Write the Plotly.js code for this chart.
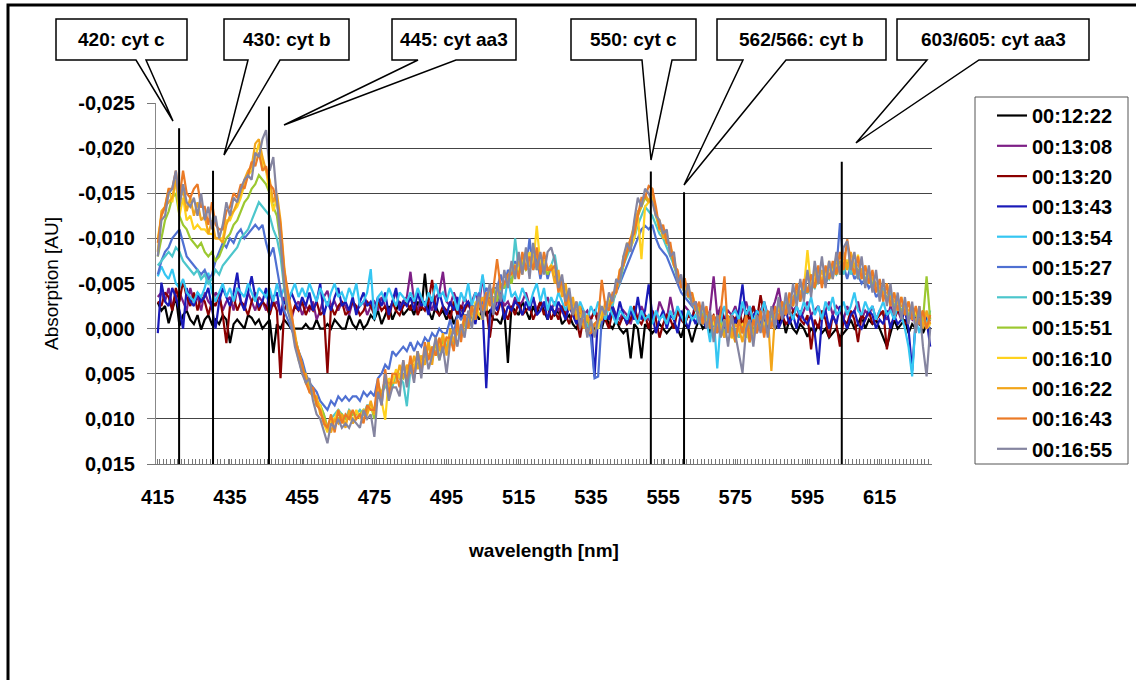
<!DOCTYPE html>
<html><head><meta charset="utf-8">
<script src="https://cdn.plot.ly/plotly-3.0.1.min.js"></script>
<style>html,body{margin:0;padding:0;background:#fff}#chart{width:1136px;height:680px}</style>
</head><body><div id="chart"></div>
<script>
// ---------------- DATA ----------------
const wavelengthNm = [415,416,417,418,419,420,421,422,423,424,425,426,427,428,429,430,431,432,433,434,
435,436,437,438,439,440,441,442,443,444,445,446,447,448,449,450,451,452,453,454,
455,456,457,458,459,460,461,462,463,464,465,466,467,468,469,470,471,472,473,474,
475,476,477,478,479,480,481,482,483,484,485,486,487,488,489,490,491,492,493,494,
495,496,497,498,499,500,501,502,503,504,505,506,507,508,509,510,511,512,513,514,
515,516,517,518,519,520,521,522,523,524,525,526,527,528,529,530,531,532,533,534,
535,536,537,538,539,540,541,542,543,544,545,546,547,548,549,550,551,552,553,554,
555,556,557,558,559,560,561,562,563,564,565,566,567,568,569,570,571,572,573,574,
575,576,577,578,579,580,581,582,583,584,585,586,587,588,589,590,591,592,593,594,
595,596,597,598,599,600,601,602,603,604,605,606,607,608,609,610,611,612,613,614,
615,616,617,618,619,620,621,622,623,624,625,626,627,628,629];

const seriesNames = ["00:12:22","00:13:08","00:13:20","00:13:43","00:13:54","00:15:27",
                     "00:15:39","00:15:51","00:16:10","00:16:22","00:16:43","00:16:55"];

// absorption values in mAU (converted to AU when plotted)
const abs_001222 = [-2.9,-2,-2.5,-0.6,-2,-3.6,-0.3,-1.5,-2,-1,
-0.5,-1.5,0.1,-1,-1.5,-0.5,-1,-0.5,-1.5,-1,
1.6,-0.5,-1,-0.5,0,-1.5,-1.2,-0.5,-1,0,
-0.5,-1,2.7,-0.5,0,-1,-0.5,0,0,0,
0,-0.5,0,0,-1,0,0,-0.5,0,-1,
-0.5,0,0,-1.5,-0.5,0,-1,0,-0.5,-1.5,
-1,-2,-0.5,-1.5,-2.5,-1,-2,-3,-1.5,-2,
-2.5,-1.5,-3,-2,-6.1,-2,-1,-2.5,-1.5,-2,
-1,-2,-0.5,-1.5,-2.5,-1,-0.5,-1.5,-2,-1,
-2.5,-1.5,-2,-1,-1,-0.5,-2,3.8,-2.5,-2,
-1.5,-3,-2,-1,-2.5,-1.5,-3,-2,-1,-2.5,
-1.5,-2,-0.5,-1,-1.5,-0.5,0,-1,-0.5,0,
-0.5,0,-1,0,-1.5,-0.5,0,-1,0,0.5,
0,3.3,-0.5,0,3.3,-0.5,0,0.5,0,-0.5,
0,0.5,0,-0.5,0,1,-0.5,0,1.5,0,
-1,0,-0.5,0.5,-1,0,-1.5,-0.5,0,-1,
-0.5,-1,0,-2,-1,0,-1.5,-0.5,-1,0,
-1,0,-0.5,-1.5,0.5,-1,0,0.5,-0.5,0,
0.9,0,0.5,-0.5,0.5,0,1,0.5,0,1,
0.5,0,-1,0,-0.5,-1.5,0,-1,-0.5,-1,
0,1,2,0.5,-1,0,-0.5,-1,0.5,-0.5,
0,-1,0.5,-0.5,0];

const abs_001308 = [-3.5,-4,-3,-4.5,-2.5,-3.5,-4,-3,-2,-4.5,
-3,-3.5,-2,-4,-3,-2.5,-4,-3.5,-2,-3,
-3.5,-2,-4.5,-3,-2.5,-4,-3,-2,-3.5,-3,
-2,-4,-2.5,-3,-1.5,-3.5,-2.5,-1,-2.5,-3,
-1.5,-2.5,-2,-3,-1,-2,-3.5,-4.2,-2.5,-3,
-2,-3,-2.5,-1.5,-3,-2,-2.5,-3,-1.5,-2.5,
-3,-2,-3.5,-2.5,-1.5,-3,-4,-2.5,-3,-3.5,
-6.3,-3,-2,-3.5,-2.5,-3,-2,-3.5,-4,-6.3,
-3,-2.5,-4,-3,-2,-3.5,-2.5,-3,-4,-2.5,
-5.8,-2.5,-3.5,-2,-3,-4,-2.5,-3,-2,-3.5,
-2.5,-3,-4,-2.5,-3.5,-2,-3,-2.5,-3.5,-2,
-3,-2,-2.5,-1.5,-3,-2,-1,-2.5,-1.5,-2,
-1,-2,-1.5,-0.5,-2,-1,-2.5,-1.5,-1,-2,
-1.5,-0.5,-2,-1,-2.5,-1.5,-1,-2,-1,-3,
-2,-1,-3.5,-1.5,-2,-1,-2.5,-2,-1,-3,
-1.5,-2.5,-1,-2,-5.8,-1.5,-2.5,-1,-2,-1.5,
-2.5,-1,-2,-3,-1.5,-2.5,-1,-2,-3,-1.5,
-2,-3,-4.5,-2,-1.5,-3,-2,-2.5,-1,-2,
-3,-1.5,-2,-2.5,-1,-2,-3,-1.5,-2.5,-2,
-1,-2.5,-1.5,-2,-3,-1,-2,-1.5,-2.5,-1,
-2,-1.5,-1,-2.5,-1.5,-2,-1,-2,-1.5,-1,
-2,-1,-1.5,-0.5,-1];

const abs_001320 = [-3,-2.5,-4,-3.5,-2,-4.5,-3,-5.3,-3.5,-2.5,
-4,-2,-3.5,-3,-1.5,-3,-2.5,-4,-1.5,1.6,
-2.5,-3.5,-2,-3,-2.5,-1.5,-3,-4,-2,-3,
-2.5,-1.5,-3,-2,5.5,-2,-3,-1.5,-2.5,-2,
-3,-1.5,-2.5,-2,-3,-1.5,-2,4.9,-2.5,-1.5,
-2.5,-3,-1.5,-2,-3,-2.5,-1.5,-2,-3,-2.5,
-1.5,-3,-2,-2.5,-1,-3,-2,-1.5,-2.5,-3,
-2,-3.5,-1.5,-2.5,-2,-3,-5.4,-2,-1.5,-2.5,
-2,-1,-3,-1.5,-2.5,-2,-3,-1.5,-2,-2.5,
-1.5,-2.5,1,-2,-1.5,-3,-2,-1,-2.5,-1.5,
-3,-1.5,-2,-2.5,-1,-2,-3,-1.5,-2.5,-1,
-2,-1,-2.5,-1.5,-0.5,-2,-1,1,-1.5,-0.5,
-1,-2,-0.5,-1.5,-1,0,-2,-1,-0.5,-1.5,
-0.5,-1,-2.5,-1,-0.5,-1.5,0,-2,-1,1,
-0.5,-1.5,-1,0,-2,-1,-0.5,-1.5,-1,-2.5,
-1,-0.5,-2,-1,-1.5,-0.5,-2,-1,-0.5,-1.5,
-1,-2,-0.5,-1.5,-1,-2.5,-1,-3.7,-1.5,-1,
-0.5,-2,-1,-1.5,-0.5,-1,-2,-1.5,-1,-0.5,
-1.5,2.3,-1,0,-2,-1,1,-1.5,-0.5,2,
-1,-0.5,-2,-1,1.5,-1.5,-1,-2,-0.5,-1,
-1.5,-2,2.3,-0.5,-1,-2,-1.5,-0.5,-1,-2,
-1,-0.5,-1.5,-1,-0.5];

const abs_001343 = [0.5,-5.1,-3,-2.5,-4.5,-3.5,-2,0,-4.5,-3,
-2.5,-4,-3,-3.5,-4.5,-2,0,-3,-4.5,-3.5,
-2.5,-4,-6.2,-3,-2,-4,-5.8,-3.5,-2.5,-3,
-4.5,-2,-3.5,-4,-1.5,-3,-2.5,-4,-3,-2,
-3.5,-2.5,-4,-2,-3,-5,-1.5,-3,-2,-3.5,
-4.5,-2.5,-3,-2,-3.5,-1.5,-3,-4,-2.5,-3,
-2,-3.5,-2.5,-4,-1.5,-3,-4.5,-2,-3,-2.5,
-3.5,-2,-4,-2.5,-3,-1.5,-3.5,-2,-4,-2.5,
-1.5,-3,-2,-3.5,-1,-2.5,-3,-2,-0.5,-3,
-2,6.6,-1.5,-3,-2,-3.5,-1,-2.5,-2,-3,
-2.5,-1.5,-3,-2,-3.5,-1.5,-2,-3,-1,-2.5,
-1.5,-3,-2,-1,-2.5,-1.5,-0.5,-2,-1,0.5,
-1,5.3,-1.5,-0.5,-2,-1,-2.5,-1,-3,-1.5,
-0.5,-2,-1,-3.5,-1,-2,-4.9,-1.5,0.5,-1,
-2,0,-1.5,-1,0.5,-2,-1,0,-1.5,-0.5,
-2,-1,0,-1.5,-0.5,-1,-2,0,-1,-1.5,
-0.5,-2,-4.9,-1,0,-1.5,-2,-0.5,-1,0,
-1.5,-2.5,0,-1,-2,-0.5,-1.5,0,-2,-1,
-0.5,-1.5,0.5,4,-1,-2,0,-1.5,-0.5,-2.5,
-1,0,-1.5,-2,-0.5,0,-1,-2,-1.5,0,
-1,-0.5,-2,0,-1.5,-0.5,-1,-2,0,4.7,
-1,-0.5,-2,-1,2];

const abs_001354 = [-5.8,-6.9,-6,-5.5,-6.6,-5,-4.5,-5.5,-4,-3.5,
-3,-4,-3.5,-4.5,-6.2,-4,-3,-4,-5,-3.5,
-4.5,-3,-4.5,-4,-3.5,-5,-4,-3,-4.5,-4,
-3.5,-4.5,-3,-5,-3.5,-4.5,-3,-4,-5,-3.5,
-4.5,-3.5,-5,-4,-3,-4.5,-3.5,-2.5,-4,-5,
-3.5,-4,-3,-4.5,-3.5,-5,-2.5,-3,-4,-6.6,
-1,-3.5,-4,-3,-4.5,-3.5,-2.5,-4,-3.5,-3,
-4,-3,-4.5,-3.5,-2.5,-4,-3,-5,-3.5,-4,
-3,-4.5,-3.5,-2,-4,-3,-5,-2.5,-4,-3.5,
-6,-3,-4,-2.5,-3.5,-4.5,-3,-5.5,-3.5,-4,
-3,-4.5,-3.5,-2.5,-4,-5,-3,-4.5,-2,-3.5,
-2.5,-4,-3,-2,-3.5,-2.5,-1.5,-3,-2,-1,
-2.5,-1.5,-3,-2,-1,-2.5,-1.5,-0.5,-2,-1.5,
-1,-2.5,-1.5,-0.5,-2,-1,-1.5,-0.5,-2,-1,
-1.5,-0.5,-2,-1,-2.5,-1.5,-0.5,-2,-1,-1.5,
-0.5,-2,-1,1.5,-1.5,4.4,-1,-2.5,-0.5,-1.5,
-2,-1,-3,-1.5,-2.5,-0.5,-2,-1.5,-3,-1,
-2,-1,-2.5,-1.5,-3,-2,-1,-2.5,-1.5,-3,
-2,-3.5,-1.5,-2.5,-1,-3,-2,-3.5,-1.5,-2,
-3,-1.5,-2.5,-4,-2,-1.5,-3,-2,-2.5,-1,
-2,-3,-1.5,-2,-1,-2.5,-1.5,0,2,5.3,
-1,0.5,-1.5,-0.5,-2];

const abs_001527 = [-6,-7.5,-8.5,-9,-10,-10.5,-11,-9.5,-8,-7.5,
-7,-6.5,-6,-6.5,-5.5,-6,-7.5,-8.5,-9.5,-9,
-10,-9.5,-10.5,-11,-10,-10.5,-11,-11.5,-11,-11.5,
-9.5,-8,-9,-6.5,-4,-2,-1,0,1,2.5,
3.5,5,6,6.5,7,8,8.5,9,8,8.5,
7.5,8,7.5,8,7.5,7.5,8,7,7.5,7,
7.5,5.5,5,4,4.5,2.5,3,2.5,2,2.5,
1.5,2.5,1.5,2,1,1.5,0.5,1,0,0.5,
0.5,-1,0.5,-1.5,-1,-1.5,-1.5,-2.5,-2.5,-4,
-2.5,-4.5,-4,-4.5,-4.5,-6,-4.5,-6.5,-6,-7.5,
-6,-8,-6.5,-10,-6.5,-8,-5.5,-7.5,-5.5,-7,
-5.5,-5,-4,-3.5,-2.5,-2.5,-1.5,-1,-0.5,0,
1,5.5,5.3,-1,-2,-2.5,-3,-4,-5,-6,
-7,-8,-9,-10,-11,-11.4,-11,-11.5,-10,-9,
-8.5,-8,-7,-6,-5,-4,-3.5,-3,-2.5,-2,
-2,-0.5,-1.5,0,-0.5,0.5,-0.5,1,-1,0.5,
1,-0.5,0.5,-1,1,-1,0.5,-1,-0.5,-1,
-1,-1.5,-1.5,-2,-2.5,-2.5,-3,-3.5,-3.5,-4,
-4,-4.5,-5,-5,-5.5,-5,-6,-6,-6.5,-11.7,
-7,-5.5,-7,-5.5,-6,-5,-5.5,-4.5,-5,-3.5,
-4,-3.5,-3.5,-3,-2.5,-2.5,-2,-2,-1.5,-1.5,
-1,-1,-0.5,-0.5,0];

const abs_001539 = [-7,-7.5,-8,-8.5,-8,-9,-8.5,-7.5,-7,-6.5,
-6,-6.5,-5.5,-6,-5,-5.5,-6.5,-6,-7,-7.5,
-8,-8.5,-9,-10,-10.5,-11,-12,-13,-14,-13.5,
-13,-12.5,-11,-10,-8,-4.5,-2,-1,1.5,3,
5,5.5,6.5,7,8,8.5,9.5,11,10,9.5,
9,9.5,10,9,9.5,9.5,9,9.5,8.5,8.5,
9,7,7,6.5,6,6.5,5,5.5,6,8.6,
4.5,4,4,3.5,3,3,2.5,2.5,2,2,
2,0.5,2,0,1,-1,0,-2,-1.5,-2.5,
-2.5,-3,-3,-3.5,-3.5,-4.5,-4.5,-5.5,-5.5,-10,
-6.5,-7,-7,-7,-7.5,-7,-6.5,-7.5,-6.5,-7,
-8.2,-5.5,-4.5,-3.5,-3,-2.5,-2,-1.5,-1,-0.5,
0.5,-0.5,0,-1.5,-1.5,-3,-2.5,-4.5,-5,-7,
-8,-9,-10,-11.5,-12.5,-13.5,-13,-12.5,-11.5,-10.5,
-10,-9,-8,-7,-5.5,-5,-4,-3.5,-3,-2,
-2.5,-0.5,-1.5,0,-0.5,0,-1,0.5,-0.5,1,
0,1,-0.5,0,1.5,-0.5,0,-1.5,0,-1.5,
-0.5,-1.5,-1.5,-2.5,-2,-3,-2.5,-4,-3,-4.5,
-4,-5,-4.5,-5.5,-5,-6,-5.5,-6.5,-6,-7,
-6,-7.5,-6,-7,-5.5,-6.5,-5,-5.5,-4.5,-5,
-3.5,-4.5,-3,-4,-2.5,-3,-2,-2.5,-1.5,-2,
-1.5,-1,-1,-0.5,-0.5];

const abs_001551 = [-8,-10,-12,-13,-14.5,-15,-12.5,-11.5,-11,-10,
-9.5,-9,-9.5,-8.5,-8,-8.5,-7.5,-8,-9,-10,
-10.5,-11.5,-12,-13,-14,-14.5,-15.5,-16,-17,-16.5,
-16,-15,-13.5,-12.5,-9.5,-5,-2,-1,1,2.5,
4,5.5,6,7,8.5,8.5,9.5,11,10.5,10,
10,9.5,10,10,9.5,9.5,9.5,9,9,8.5,
10,6,7.5,5.5,7,6,5,5,5.5,4.5,
4.5,4,4,3,4,1.5,3.5,1.5,3.5,1,
2.5,1,1.5,0,0.5,-0.5,-0.5,-2.5,-1,-3,
-2,-3.5,-3,-4.5,-3,-5,-4.5,-6,-5,-7,
-6,-7.5,-6.5,-7,-8.5,-6.5,-7.5,-7,-6,-7,
-6,-5.5,-4.5,-3.5,-3,-2.5,-2,-1.5,-1,-1,
0,-0.5,-0.5,-1.5,-2,-3,-3.5,-4.5,-5.5,-7,
-8.5,-9.5,-11,-12.5,-13.5,-14.5,-14,-14.5,-12.5,-11,
-10.5,-9.5,-9,-7,-6,-5,-4,-4,-3,-2.5,
-2,-1.5,-1,-1,-0.5,0,-0.5,0.5,-0.5,0,
1.5,-0.5,0,1,-0.5,0.5,-1,0,-1.5,-0.5,
-1.5,-1,-2.5,-2,-2.5,-3.5,-3,-4,-3.5,-5,
-4,-6,-4.5,-6.5,-5,-6.5,-5.5,-7,-6,-7.5,
-6.5,-7.5,-7,-7,-6.5,-6.5,-5.5,-6,-5,-5,
-4,-4,-3.5,-3.5,-2.5,-3,-2,-2.5,-1.5,-2,
-1.5,-1,-1,-5.8,-1];

const abs_001610 = [-10,-12.5,-13.5,-15.5,-14,-16.5,-12.5,-14.5,-12,-12.5,
-11,-11.5,-11,-11,-10.5,-10.5,-10,-10,-10,-12,
-12,-13,-13.5,-14.5,-16,-17,-17.5,-19,-20.5,-18,
-17.5,-15,-13,-14.5,-10.5,-6,-2.5,-0.5,1,3.5,
4.5,6,6.5,7.5,8,8.5,10.5,11.5,10,10,
9,10,10.5,9.5,10.5,9,10,9,9.5,8.5,
9.5,6.5,8,10.1,5.5,6,4.5,5.5,4,5,
3.5,4.5,2.5,4,2.5,3,2,3,1.5,2,
1,1.5,1,0.5,0.5,0.5,-1.5,-0.5,-3,-1.5,
-1,-4,-2.5,-3,-4,-4.5,-5,-5.5,-6,-7,
-6.5,-8,-6.5,-8.5,-7,-11.4,-7,-7.5,-6.5,-7,
-6,-5.5,-4,-4.5,-2.5,-3,-1.5,-1.5,-1,0.5,
0,-0.5,0,-2,-1.5,-3.5,-3.5,-4,-6.5,-7,
-9.5,-9,-10,-12.5,-7.7,-13.5,-14,-14.5,-13,-11,
-11,-9.5,-9,-8,-5.5,-5,-5,-3.5,-4,-2.5,
-1,-2.5,-0.5,-1.5,-0.5,-0.5,0.5,-1,0,1,
1,0,-0.5,0,1.5,-1,0,-1.5,-0.5,-1,
-1,-1.5,-2,-3,-1.5,-3.5,-2.5,-5,-4,-4.5,
-8.7,-4.5,-5.5,-6,-5.5,-6,-6.5,-6.5,-7,-7,
-7.5,-7.5,-7.5,-6,-8.2,-5.5,-7,-5,-6,-4.5,
-5,-3.5,-5,-2.5,-4,-2,-3.5,-1.5,-3,-1,
-2,-0.5,-2,0,-0.5];

const abs_001622 = [-8.5,-13,-13.5,-14,-14.5,-16.5,-14,-15.5,-13,-14.5,
-12.5,-14,-12,-12.5,-10.5,-12,-10,-10,-9.5,-11.5,
-12.5,-13,-14,-15,-16.5,-17.5,-18,-20.5,-21,-19,
-17.5,-16.5,-14,-15,-12,-7,-3.5,-1.5,0.5,3,
5,5,7,7.5,7.5,9.5,10,11,11.5,10,
10.5,9.5,11,9,10.5,10,9.5,10,9.5,8,
9.5,7,7,6,6,6,6,4,5.5,4,
5,3,4.5,3,4,1.5,4,1,2.5,0.5,
3,0,1.5,0.5,0.5,-1.5,0,-2,-2,-2.5,
-3.5,-2,-4.5,-3,-4,-4.5,-5,-5.5,-7,-6.5,
-7.5,-6,-8.5,-7,-8,-8,-7,-6.5,-6.5,-7,
-5,-6.5,-3.5,-5,-2,-3.5,-1,-2.5,0,-1.5,
0,0.5,-1,-1,-3,-2.5,-3,-5,-5.5,-8,
-8.5,-10,-11.5,-13,-13.5,-15,-14,-15.5,-12.5,-12,
-10,-10.5,-8.5,-7.5,-6,-5.5,-4,-4.5,-3,-2.5,
-2.5,-0.5,-2,-1,0.5,-1.5,0,1,-1.5,1,
-0.5,0,1.5,-1,0.5,1,-1.5,0,0.5,-1.5,
4.7,-1.5,-2,-2,-2.5,-3,-3.5,-4,-4,-4.5,
-6,-4,-6.5,-5,-6.5,-5,-7.5,-5.5,-8,-6,
-8.5,-6.5,-8.5,-7,-7,-6.5,-6,-6,-5.5,-5,
-4.5,-4,-4,-3.5,-3,-3,-2.5,-2.5,-2,-2,
-0.5,-2.5,0,-2,-0.5];

const abs_001643 = [-9.5,-12.5,-13.5,-15.5,-15.5,-17.5,-14.5,-17.5,-15,-14.5,
-15.5,-16,-13.5,-13.5,-11.5,-14,-11.5,-11,-11,-13,
-13.5,-15,-14.5,-16,-15.5,-17,-18.5,-18,-19.5,-17.5,
-18,-16,-15.5,-14,-11.5,-6.5,-4,-2,1.5,2.5,
4,6,7,6.5,8.5,9,10.5,11,9.5,11.5,
9,10.5,9.5,10,9,10,9.5,10.5,8.5,9,
9,5.5,8.5,4.5,7.5,5,5,6.5,3.5,6,
3,5.5,2.5,5,1.5,3.5,2,3,1,2.5,
1,1,2.5,-1,1.5,-1.5,0,-2.5,-1,-3.5,
-2,-4,-2.5,-4.5,-7.7,-4.5,-5,-6,-6,-7,
-5.5,-8.5,-6.5,-8,-6.5,-9,-6,-8.5,-6.5,-6.5,
-7,-4,-5.5,-2.5,-4,-1.5,-3,-0.5,-1,0.5,
0.5,-0.5,-1,-5.4,-2.5,-2,-4,-4,-6.5,-7,
-8.5,-10,-10.5,-12.5,-14.5,-14.5,-15.8,-15.5,-13.5,-11,
-11.5,-9.5,-9.5,-7,-6.5,-4.5,-5.6,-3.5,-4,-2,
-3,-0.5,-2.5,0,-1.5,0.5,-2,-5.8,0.5,-1.5,
1.5,-1,0.5,-1.5,1.5,-1,0.5,-2,1,-2,
0,-2.5,-1,-3,-1.5,-4,-2.5,-5,-3,-5.5,
-4,-6,-4.5,-7,-4.5,-7,-5.5,-7.5,-6,-8.5,
-6.5,-9.9,-7.5,-6,-8,-5.5,-7,-5,-6.5,-4,
-5.5,-3,-5,-2.5,-4,-2,-3.5,-1.5,-3,-1,
-2.5,-0.5,-2,0,-1.5];

const abs_001655 = [-8,-12,-12.5,-15,-15.5,-17.5,-13.5,-16,-14,-13.5,
-14.5,-12.5,-15,-12,-13.5,-11,-12.5,-10,-11.5,-14,
-12.5,-14.5,-14,-15.5,-16.5,-17,-16.5,-19.5,-19,-21,
-22,-17.5,-19,-14.5,-10,-5,-2,-0.5,2,3.5,
5,6,5.5,8,9.5,10,11.5,12.7,10.5,11,
10,11,10.5,11,10,10.5,11,9,10,9.5,
12,7,8.5,5,8,6.5,6.5,7.5,3.5,6.5,
4,6,2.5,5.5,2,4.5,3,1,3.5,2,
5,1.5,0,2,-0.5,1,-2,0,-2.5,-3.5,
-1,-3,-5,-1.5,-5,-3,-6.5,-4.5,-7.5,-5.5,
-8.5,-6,-9,-5.5,-9.5,-6.5,-8.5,-6,-8.5,-9,
-7.5,-4.5,-6,-3,-4.5,-1.5,-3,0,-2,1,
-1,1,-1,-2.5,-1.5,-4,-3,-5.5,-5,-8,
-9.5,-8.5,-12,-14.5,-13.5,-15.5,-15,-14,-12.5,-12,
-10.5,-11,-8,-8.5,-5,-6,-3.5,-5,-2.5,-3,
-0.5,-3,0,-2,1.5,-1.5,1,-1,2,-1.5,
0.5,2.5,4.9,0,-1,2,-1.5,0.5,-2,1,
-2.5,0,-3.5,-1,-4,-1.5,-5,-2.5,-5.5,-3,
-6.5,-3.5,-7.5,-5,-8,-4.5,-7.5,-5.5,-8.5,-6,
-9,-9.7,-6.5,-8.5,-5.5,-8,-4.5,-7,-4,-6.5,
-3,-5.5,-2.5,-5,-1.5,-4,-1,-3.5,-0.5,-3,
0.5,-2.5,2,5.3,0];

const seriesValues_mAU = [abs_001222, abs_001308, abs_001320, abs_001343, abs_001354, abs_001527,
                          abs_001539, abs_001551, abs_001610, abs_001622, abs_001643, abs_001655];

// hand-drawn marker lines
const markerLabels = ["420: cyt c","430: cyt b","445: cyt aa3","550: cyt c","562/566: cyt b","603/605: cyt aa3"];
const markerNm = [420.9, 430.3, 445.8, 551.6, 560.8, 604.5];
const markerTopAU = [-0.0222, -0.0175, -0.0246, -0.0174, -0.0151, -0.0185];

const yTickVals = [-0.025,-0.020,-0.015,-0.010,-0.005,0,0.005,0.010,0.015];
const yTickText = ["-0,025","-0,020","-0,015","-0,010","-0,005","0,000","0,005","0,010","0,015"];
const xTickVals = [415,435,455,475,495,515,535,555,575,595,615];

// ---------------- STYLE / GEOMETRY ----------------
const seriesColors = ["#000000","#7d1f86","#8b0000","#1a1ab8","#35c6f2","#4f70d2",
                      "#4cc6cc","#9cc830","#ffd21e","#f2a51a","#eb7a26","#8585a0"];
const FONT = "Liberation Sans, Arial, sans-serif";
const PL = 156, PR = 932, PT = 103, PB = 464;
function px(x){ return (x - PL) / (PR - PL); }
function py(y){ return (PB - y) / (PB - PT); }

// callout boxes in pixels: [left, right, wedgeLeft, wedgeRight, tipX, tipY]
const calloutGeom = [[56,187,136,146,173,121],[224,349,248,280,224,155],[392,516,418,456,284,125],
                     [571,696,642,672,651,160],[717,886,743,786,684,185],[897,1089,927,979,856,143]];
const boxTop = 19, boxBot = 60;

const traces = seriesNames.map((name, i) => ({
  type: "scatter", mode: "lines", name: name,
  x: wavelengthNm,
  y: seriesValues_mAU[i].map(v => v / 1000),
  line: {color: seriesColors[i], width: 2.2},
  legendgroup: "g" + i,
  hoverinfo: "skip"
}));

const shapes = [];
// outer frame (right and bottom edges run off the picture)
shapes.push({type:"rect", xref:"paper", yref:"paper", x0:px(8), x1:px(1150), y0:py(5), y1:py(700),
             line:{color:"#000", width:3}, fillcolor:"rgba(0,0,0,0)", layer:"below"});
// legend frame
shapes.push({type:"rect", xref:"paper", yref:"paper", x0:px(975), x1:px(1128), y0:py(97), y1:py(464),
             line:{color:"#555", width:1}, fillcolor:"rgba(0,0,0,0)", layer:"below"});
// marker lines
markerNm.forEach((x, i) => {
  shapes.push({type:"line", xref:"x", yref:"y", x0:x, x1:x, y0:0.015, y1:markerTopAU[i],
               line:{color:"#000", width:2}, layer:"above"});
});
// callout boxes with wedge
const annotations = [];
calloutGeom.forEach((g, i) => {
  const [l, r, wl, wr, tx, ty] = g;
  const path = `M ${px(l)},${py(boxTop)} L ${px(r)},${py(boxTop)} L ${px(r)},${py(boxBot)} L ${px(wr)},${py(boxBot)} ` +
               `L ${px(tx)},${py(ty)} L ${px(wl)},${py(boxBot)} L ${px(l)},${py(boxBot)} Z`;
  shapes.push({type:"path", xref:"paper", yref:"paper", path: path,
               line:{color:"#000", width:1.5}, fillcolor:"#fff", layer:"above"});
  annotations.push({xref:"paper", yref:"paper", x:px((l + r) / 2), y:py((boxTop + boxBot) / 2),
                    text: markerLabels[i], showarrow:false, xanchor:"center", yanchor:"middle",
                    font:{family:FONT, size:19, color:"#000", weight:700}});
});

const layout = {
  width: 1136, height: 680,
  margin: {l: PL, r: 1136 - PR, t: PT, b: 680 - PB, pad: 0},
  paper_bgcolor: "#fff", plot_bgcolor: "#fff",
  font: {family: FONT, color: "#000"},
  showlegend: true,
  legend: {x: px(992), y: py(96), xanchor: "left", yanchor: "top", maxheight: 420,
           bgcolor: "rgba(0,0,0,0)", borderwidth: 0, traceorder: "grouped", tracegroupgap: 1.3,
           font: {family: FONT, size: 20, color: "#000", weight: 700}},
  xaxis: {
    range: [414.5, 629.5], tickmode: "array", tickvals: xTickVals,
    ticks: "inside", ticklen: 5, tickcolor: "#777", tickwidth: 1,
    minor: {dtick: 1, tick0: 414.5, ticks: "inside", ticklen: 5, tickcolor: "#777", tickwidth: 1, showgrid: false},
    showgrid: false, zeroline: false, showline: true, linecolor: "#777", linewidth: 1,
    tickfont: {family: FONT, size: 20, color: "#000", weight: 700},
    ticklabelstandoff: 15,
    title: {text: "wavelength [nm]", font: {family: FONT, size: 19, color: "#000", weight: 700}, standoff: 36}
  },
  yaxis: {
    range: [0.015, -0.025], tickmode: "array", tickvals: yTickVals, ticktext: yTickText,
    ticks: "outside", ticklen: 8, tickcolor: "#777", tickwidth: 1,
    showgrid: true, gridcolor: "#444", gridwidth: 1,
    zeroline: false, showline: true, linecolor: "#888", linewidth: 1,
    tickfont: {family: FONT, size: 20, color: "#000", weight: 700},
    ticklabelstandoff: 8,
    title: {text: "Absorption [AU]", font: {family: FONT, size: 19, color: "#000"}, standoff: 14}
  },
  shapes: shapes,
  annotations: annotations
};

Plotly.newPlot("chart", traces, layout, {staticPlot: true, displayModeBar: false});
</script>
</body></html>
